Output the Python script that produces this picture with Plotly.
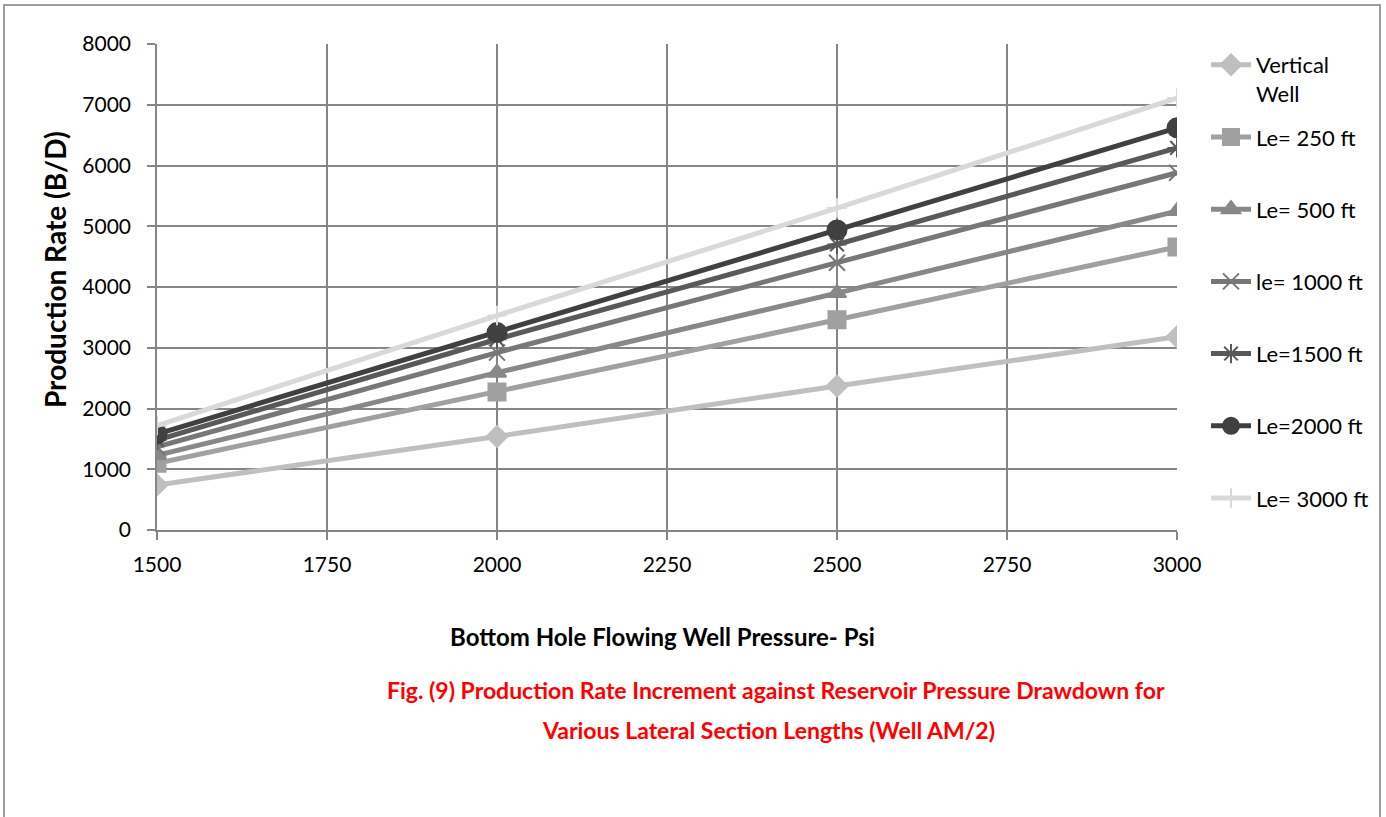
import plotly.graph_objects as go

pressure = [1500, 2000, 2500, 3000]
series_names = ["Vertical<br>Well", "Le= 250 ft<br> ", "Le= 500 ft<br> ", "le= 1000 ft<br> ",
                "Le=1500 ft<br> ", "Le=2000 ft<br> ", "Le= 3000 ft<br> "]
vertical = [740, 1540, 2370, 3180]
le250 = [1100, 2270, 3460, 4660]
le500 = [1230, 2590, 3900, 5250]
le1000 = [1370, 2920, 4400, 5880]
le1500 = [1480, 3140, 4700, 6290]
le2000 = [1580, 3250, 4940, 6620]
le3000 = [1720, 3530, 5300, 7110]

data = [vertical, le250, le500, le1000, le1500, le2000, le3000]
colors = ["#bfbfbf", "#a0a0a0", "#888888", "#777777", "#595959", "#404040", "#d9d9d9"]
symbols = ["diamond", "square", "triangle-up", "x-thin-open", "asterisk-open", "circle", "cross-thin-open"]
msizes = [16, 17, 16, 16, 16, 19, 14]

FONT = "Lato, 'Open Sans', sans-serif"

# plot area in pixels
L, R, T, B = 157, 1177, 44, 530
W, H = R - L, B - T


def px(xp):
    return (xp - L) / W


def py(yp):
    return (B - yp) / H


fig = go.Figure()
for i, (name, ys) in enumerate(zip(series_names, data)):
    fig.add_trace(go.Scatter(
        x=pressure, y=ys, name=name, mode="lines+markers",
        legendgroup=str(i),
        line=dict(color=colors[i], width=5),
        marker=dict(symbol=symbols[i], size=msizes[i], color=colors[i],
                    line=dict(color=colors[i], width=2)),
    ))

axis_common = dict(showgrid=True, gridcolor="#868686", gridwidth=1.5,
                   showline=True, linecolor="#868686", linewidth=1.5,
                   ticks="outside", ticklen=8, tickcolor="#868686", tickwidth=1.5,
                   zeroline=False, tickfont=dict(family=FONT, size=21, color="black"))

fig.update_layout(
    width=1386, height=817,
    margin=dict(l=L, r=1386 - R, t=T, b=817 - B),
    paper_bgcolor="white", plot_bgcolor="white",
    font=dict(family=FONT, size=21, color="black"),
    showlegend=True,
    legend=dict(x=px(1206), y=py(44), xanchor="left", yanchor="top",
                tracegroupgap=12, valign="top", maxheight=780,
                font=dict(family=FONT, size=22, color="black"),
                itemwidth=40),
    xaxis=dict(range=[1500, 3000], tickvals=[1500, 1750, 2000, 2250, 2500, 2750, 3000],
               ticklabelstandoff=7, **axis_common),
    yaxis=dict(range=[0, 8000], dtick=1000, ticklabelstandoff=12, **axis_common),
    annotations=[
        dict(text="<b>Bottom Hole Flowing Well Pressure- Psi</b>",
             xref="paper", yref="paper", x=px(662), y=py(636),
             xanchor="center", yanchor="middle", showarrow=False,
             font=dict(family=FONT, size=24, color="black")),
        dict(text="<b>Production Rate (B/D)</b>", textangle=-90,
             xref="paper", yref="paper", x=px(55), y=py(270),
             xanchor="center", yanchor="middle", showarrow=False,
             font=dict(family=FONT, size=28, color="black")),
        dict(text="<b>Fig. (9) Production Rate Increment against Reservoir Pressure Drawdown for</b>",
             xref="paper", yref="paper", x=px(776), y=py(690),
             xanchor="center", yanchor="middle", showarrow=False,
             font=dict(family=FONT, size=23, color="#ff0000")),
        dict(text="<b>Various Lateral Section Lengths (Well AM/2)</b>",
             xref="paper", yref="paper", x=px(768), y=py(730),
             xanchor="center", yanchor="middle", showarrow=False,
             font=dict(family=FONT, size=23, color="#ff0000")),
    ],
    shapes=[dict(type="rect", xref="paper", yref="paper",
                 x0=px(4), x1=px(1380), y0=py(830), y1=py(5),
                 line=dict(color="#a0a0a0", width=2), fillcolor="rgba(0,0,0,0)", layer="below")],
)

fig.write_html("out.html")
